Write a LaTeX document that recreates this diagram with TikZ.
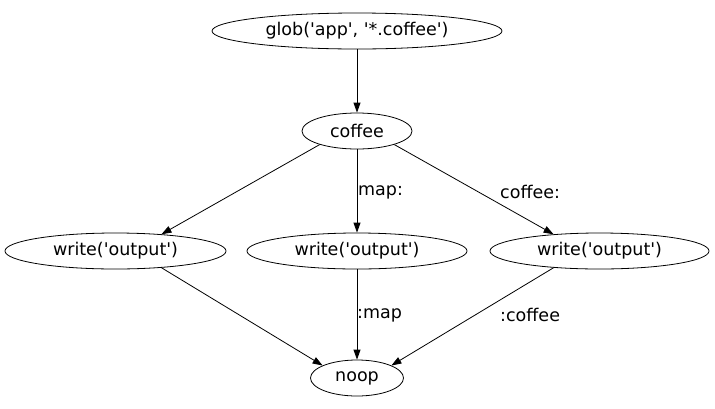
\documentclass[tikz,border=0pt]{standalone}
\usepackage{fontspec}
\setmainfont{DejaVu Sans}
\usetikzlibrary{shapes.geometric,arrows.meta}
\newcommand{\q}{\textquotesingle}
\begin{document}
\begin{tikzpicture}[x=1pt,y=-1pt,
  every node/.style={font=\fontsize{17.5}{20}\selectfont},
  nd/.style={draw,ellipse,line width=0.8pt,inner sep=0pt},
  lbl/.style={anchor=west,inner sep=0pt},
  edge/.style={line width=0.8pt,-{Triangle[length=10pt,width=7pt]}}]
\path[use as bounding box] (0,0) rectangle (715,408);
\node[nd,minimum width=290,minimum height=36] (glob) at (357,31) {glob(\q app\q, \q*.coffee\q)};
\node[nd,minimum width=110,minimum height=36] (coffee) at (357,131) {coffee};
\node[nd,minimum width=221,minimum height=36] (w1) at (115.5,251) {write(\q output\q)};
\node[nd,minimum width=220,minimum height=36] (w2) at (357,251) {write(\q output\q)};
\node[nd,minimum width=219,minimum height=36] (w3) at (599.5,251) {write(\q output\q)};
\node[nd,minimum width=93,minimum height=36] (noop) at (357,378) {noop};
\draw[edge] (glob) -- (coffee);
\draw[edge] (coffee.200) -- (w1.20);
\draw[edge] (coffee) -- (w2);
\draw[edge] (coffee.340) -- (w3.160);
\draw[edge] (w1.340) -- (noop.160);
\draw[edge] (w2) -- (noop);
\draw[edge] (w3.200) -- (noop.20);
\node[lbl] (l1) at (358,192) {map:};
\node[lbl] (l2) at (500,192) {coffee:};
\node[lbl] (l3) at (357,315) {:map};
\node[lbl] (l4) at (500,315) {:coffee};
\end{tikzpicture}
\end{document}
